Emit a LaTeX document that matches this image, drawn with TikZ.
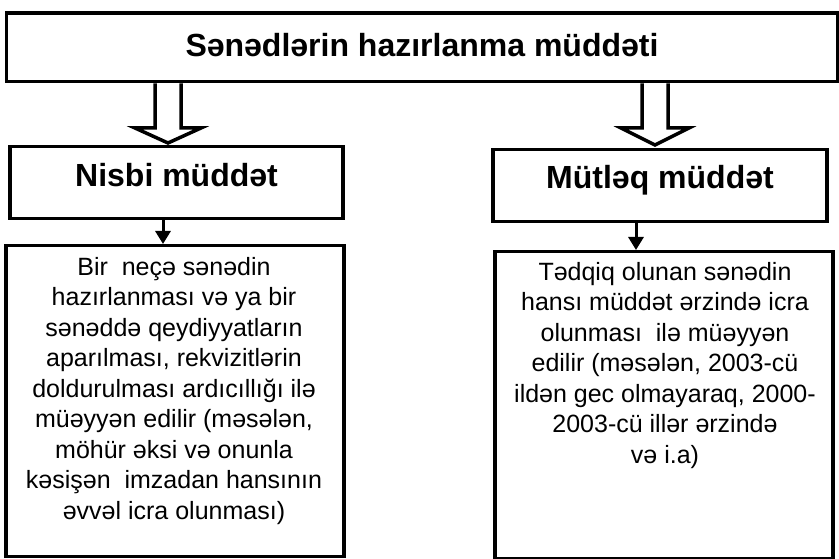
\documentclass[tikz,border=0pt]{standalone}
\usepackage{fontspec}
\setmainfont{Liberation Sans}
\usetikzlibrary{arrows.meta,calc}
\begin{document}
\begin{tikzpicture}[x=1pt,y=-1pt,
  box/.style={draw,line width=3.3pt,inner sep=0pt,rectangle},
  headfont/.style={font=\bfseries\fontsize{32}{36}\selectfont},
  bodytext/.style={font=\fontsize{25}{30.5}\selectfont,align=center,inner sep=0pt},
  hollow/.style={draw,line width=3.5pt,line join=miter},
  conn/.style={line width=3pt,-{Triangle[width=15pt,length=13pt]}}]
\useasboundingbox (0,0) rectangle (839,559);

\node[box,headfont,anchor=north,minimum width=831pt,text height=43.5pt,text depth=25pt] (title) at (422,11.5) {Sənədlərin hazırlanma müddəti};
\node[box,headfont,anchor=north,minimum width=333pt,text height=40pt,text depth=32pt] (nis) at (176.5,145) {Nisbi müddət};
\node[box,headfont,anchor=north,minimum width=334pt,text height=39pt,text depth=33pt] (mut) at (660,148) {Mütləq müddət};
\node[box,anchor=north,minimum width=338pt,minimum height=311pt] (lbody) at (175,244) {};
\node[box,anchor=north,minimum width=338pt,minimum height=307pt] (rbody) at (664,250) {};

\node[bodytext,anchor=base] (ltext) at (174,519) {Bir\ \ neçə sənədin\\ hazırlanması və ya bir\\ sənəddə qeydiyyatların\\ aparılması, rekvizitlərin\\ doldurulması ardıcıllığı ilə\\ müəyyən edilir (məsələn,\\ möhür əksi və onunla\\ kəsişən\ \ imzadan hansının\\ əvvəl icra olunması)};
\node[bodytext,anchor=base] (rtext) at (665,463) {Tədqiq olunan sənədin\\ hansı müddət ərzində icra\\ olunması\ \ ilə müəyyən\\ edilir (məsələn, 2003-cü\\ ildən gec olmayaraq, 2000-\\ 2003-cü illər ərzində\\ və i.a)};

\coordinate (la) at (168,0);
\coordinate (ra) at (655,0);
\coordinate (lb) at (163,0);
\coordinate (rb) at (636,0);

\draw[hollow] ($(la |- title.south)+(-13,0)$) -- ($(la |- nis.north)+(-13,-17)$) -- ($(la |- nis.north)+(-33,-17)$) -- ($(la |- nis.north)+(0,-2)$) -- ($(la |- nis.north)+(33,-17)$) -- ($(la |- nis.north)+(13,-17)$) -- ($(la |- title.south)+(13,0)$);
\draw[hollow] ($(ra |- title.south)+(-13,0)$) -- ($(ra |- mut.north)+(-13,-20)$) -- ($(ra |- mut.north)+(-34,-20)$) -- ($(ra |- mut.north)+(0,-3)$) -- ($(ra |- mut.north)+(34,-20)$) -- ($(ra |- mut.north)+(13,-20)$) -- ($(ra |- title.south)+(13,0)$);

\draw[conn] (lb |- nis.south) -- (lb |- lbody.north);
\draw[conn] (rb |- mut.south) -- (rb |- rbody.north);
\end{tikzpicture}
\end{document}
